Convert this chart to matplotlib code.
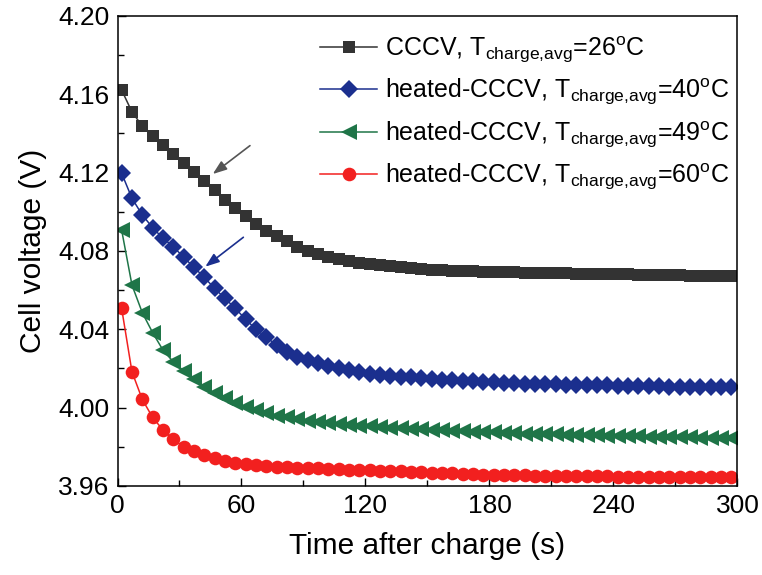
import numpy as np
import matplotlib
matplotlib.use("Agg")
import matplotlib.pyplot as plt

plt.rcParams['font.family'] = ['Liberation Sans', 'DejaVu Sans']
plt.rcParams['mathtext.fontset'] = 'custom'
plt.rcParams['mathtext.rm'] = 'Liberation Sans'
plt.rcParams['mathtext.it'] = 'Liberation Sans:italic'

time_s = [2, 7, 12, 17, 22, 27, 32, 37, 42, 47, 52, 57, 62, 67, 72, 77, 82, 87, 92, 97,
          102, 107, 112, 117, 122, 127, 132, 137, 142, 147, 152, 157, 162, 167, 172, 177,
          182, 187, 192, 197, 202, 207, 212, 217, 222, 227, 232, 237, 242, 247, 252, 257,
          262, 267, 272, 277, 282, 287, 292, 297]

v_cccv_26 = [4.1622, 4.1510, 4.1438, 4.1387, 4.1340, 4.1295, 4.1248, 4.1203, 4.1159, 4.1111,
             4.1059, 4.1018, 4.0979, 4.0938, 4.0903, 4.0876, 4.0849, 4.0822, 4.0801, 4.0784,
             4.0771, 4.0760, 4.0750, 4.0740, 4.0733, 4.0728, 4.0723, 4.0718, 4.0713, 4.0709,
             4.0705, 4.0702, 4.0700, 4.0698, 4.0697, 4.0695, 4.0694, 4.0692, 4.0691, 4.0690,
             4.0689, 4.0688, 4.0687, 4.0686, 4.0685, 4.0684, 4.0683, 4.0682, 4.0681, 4.0680,
             4.0679, 4.0678, 4.0677, 4.0676, 4.0675, 4.0674, 4.0673, 4.0672, 4.0671, 4.0670]

v_heated_40 = [4.1197, 4.1069, 4.0984, 4.0919, 4.0865, 4.0822, 4.0768, 4.0717, 4.0665, 4.0609,
               4.0558, 4.0507, 4.0451, 4.0400, 4.0359, 4.0320, 4.0286, 4.0260, 4.0243, 4.0226,
               4.0212, 4.0200, 4.0190, 4.0181, 4.0174, 4.0168, 4.0163, 4.0158, 4.0154, 4.0150,
               4.0146, 4.0143, 4.0140, 4.0137, 4.0134, 4.0131, 4.0129, 4.0127, 4.0125, 4.0123,
               4.0122, 4.0120, 4.0119, 4.0118, 4.0117, 4.0116, 4.0115, 4.0114, 4.0113, 4.0112,
               4.0111, 4.0110, 4.0109, 4.0108, 4.0107, 4.0106, 4.0105, 4.0105, 4.0104, 4.0104]

v_heated_49 = [4.0907, 4.0626, 4.0485, 4.0383, 4.0294, 4.0234, 4.0188, 4.0144, 4.0104, 4.0073,
               4.0047, 4.0025, 4.0005, 3.9988, 3.9971, 3.9957, 3.9950, 3.9943, 3.9933, 3.9928,
               3.9922, 3.9917, 3.9912, 3.9908, 3.9904, 3.9900, 3.9897, 3.9894, 3.9891, 3.9889,
               3.9886, 3.9884, 3.9882, 3.9880, 3.9878, 3.9876, 3.9874, 3.9872, 3.9870, 3.9868,
               3.9867, 3.9865, 3.9864, 3.9862, 3.9861, 3.9859, 3.9858, 3.9857, 3.9856, 3.9854,
               3.9853, 3.9852, 3.9851, 3.9850, 3.9849, 3.9848, 3.9847, 3.9846, 3.9845, 3.9844]

v_heated_60 = [4.0507, 4.0183, 4.0042, 3.9950, 3.9886, 3.9838, 3.9800, 3.9780, 3.9758, 3.9741,
               3.9729, 3.9719, 3.9712, 3.9707, 3.9702, 3.9698, 3.9695, 3.9693, 3.9692, 3.9690,
               3.9688, 3.9686, 3.9684, 3.9682, 3.9680, 3.9678, 3.9676, 3.9674, 3.9672, 3.9670,
               3.9668, 3.9666, 3.9664, 3.9662, 3.9660, 3.9658, 3.9657, 3.9656, 3.9655, 3.9654,
               3.9653, 3.9652, 3.9652, 3.9651, 3.9650, 3.9650, 3.9649, 3.9649, 3.9648, 3.9648,
               3.9647, 3.9647, 3.9646, 3.9646, 3.9646, 3.9645, 3.9645, 3.9645, 3.9644, 3.9644]

labels = [r'CCCV, T$_{\mathrm{charge{,}avg}}$=26$^{\mathrm{o}}$C',
          r'heated-CCCV, T$_{\mathrm{charge{,}avg}}$=40$^{\mathrm{o}}$C',
          r'heated-CCCV, T$_{\mathrm{charge{,}avg}}$=49$^{\mathrm{o}}$C',
          r'heated-CCCV, T$_{\mathrm{charge{,}avg}}$=60$^{\mathrm{o}}$C']

x_ticks = [0, 60, 120, 180, 240, 300]
y_ticks = [3.96, 4.00, 4.04, 4.08, 4.12, 4.16, 4.20]

fig = plt.figure(figsize=(7.62, 5.75), dpi=100)
ax = fig.add_axes([0.1542, 0.1548, 0.8136, 0.8174])

series = [
    (v_cccv_26, '#333333', 's', 8.7),
    (v_heated_40, '#1b2f8e', 'D', 9.3),
    (v_heated_49, '#1f7548', '<', 11.0),
    (v_heated_60, '#f2201f', 'o', 9.8),
]
for (vals, col, mk, ms), lab in zip(series, labels):
    ax.plot(time_s, vals, color=col, marker=mk, markersize=ms, linewidth=1.1,
            markeredgewidth=0, label=lab, clip_on=True)

ax.annotate('', xy=(46.1, 4.1193), xytext=(64.1, 4.1338),
            arrowprops=dict(arrowstyle='-|>,head_length=0.6,head_width=0.22', color='#555555', lw=1.2,
                            mutation_scale=14, shrinkA=0, shrinkB=0))
ax.annotate('', xy=(42.5, 4.0720), xytext=(60.9, 4.0870),
            arrowprops=dict(arrowstyle='-|>,head_length=0.6,head_width=0.22', color='#1b2f8e', lw=1.2,
                            mutation_scale=14, shrinkA=0, shrinkB=0))

ax.set_xlim(0, 300)
ax.set_ylim(3.96, 4.20)
ax.set_xticks(x_ticks)
ax.set_xticks([30, 90, 150, 210, 270], minor=True)
ax.set_yticks(y_ticks)
ax.set_yticks([3.98, 4.02, 4.06, 4.10, 4.14, 4.18], minor=True)
ax.set_yticklabels(['%.2f' % v for v in y_ticks])
ax.tick_params(axis='both', which='both', direction='in', labelsize=19,
               top=False, right=False, width=1.0)
ax.tick_params(axis='both', which='major', length=6, pad=6)
ax.tick_params(axis='both', which='minor', length=4)
for sp in ax.spines.values():
    sp.set_linewidth(1.1)

ax.set_xlabel('Time after charge (s)', fontsize=21.5, labelpad=10)
ax.set_ylabel('Cell voltage (V)', fontsize=21.5, labelpad=8)

ax.legend(loc='upper left', bbox_to_anchor=(0.3266, 0.96), frameon=False,
          fontsize=18, handlelength=2.3, handletextpad=0.3, labelspacing=0.48,
          borderpad=0, borderaxespad=0)

fig.savefig('out.png', dpi=100)
